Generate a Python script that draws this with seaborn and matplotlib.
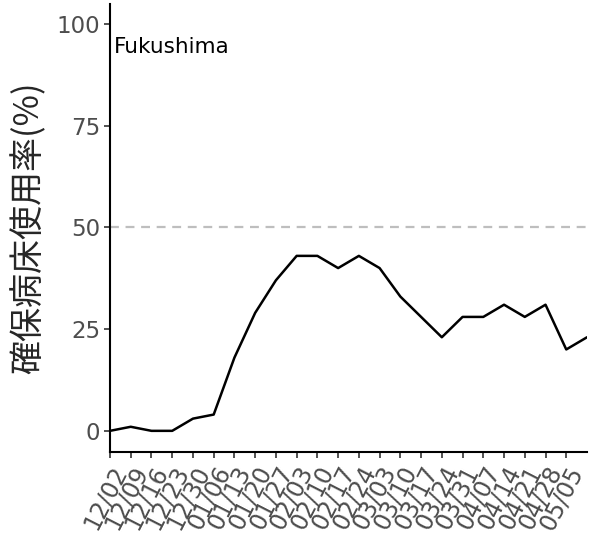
import matplotlib
matplotlib.use("Agg")
import matplotlib.pyplot as plt
import seaborn as sns
import pandas as pd

dates = ["12/02", "12/09", "12/16", "12/23", "12/30", "01/06", "01/13", "01/20",
         "01/27", "02/03", "02/10", "02/17", "02/24", "03/03", "03/10", "03/17",
         "03/24", "03/31", "04/07", "04/14", "04/21", "04/28", "05/05", "05/12"]
usage = [0, 1, 0, 0, 3, 4, 18, 29, 37, 43, 43, 40, 43, 40, 33, 28, 23, 28, 28, 31, 28, 31, 20, 23]
tick_labels = dates[:23]
y_ticks = [0, 25, 50, 75, 100]

df = pd.DataFrame({"idx": range(len(dates)), "usage": usage})

sns.set_theme(style="white")
plt.rcParams['font.family'] = ['DejaVu Sans', 'Noto Sans CJK JP']

fig = plt.figure(figsize=(5.96, 5.48), dpi=100)
ax = fig.add_axes([110/596, 1 - 452/548, 477/596, 448/548])

ax.axhline(50, color="#BEBEBE", lw=1.6, ls=(0, (4, 3)), zorder=1)
sns.lineplot(data=df, x="idx", y="usage", color="black", lw=1.8, ax=ax, zorder=3)

ax.set_xlim(0, len(dates) - 1)
ax.set_ylim(-5.2, 104.9)
ax.set_xticks(range(len(tick_labels)))
ax.set_xticklabels(tick_labels, rotation=63, ha="right", va="top",
                   rotation_mode="anchor", fontsize=17, color="#4D4D4D")
ax.set_yticks(y_ticks)
ax.set_yticklabels([str(v) for v in y_ticks], fontsize=16.5, color="#4D4D4D")
ax.tick_params(axis="both", length=4, width=1.2, color="#333333", pad=3, bottom=True, left=True)
ax.set_xlabel("")
ax.set_ylabel("確保病床使用率(%)", fontsize=24.5, family=['Noto Sans CJK JP', 'DejaVu Sans'], labelpad=7)

for s in ["top", "right"]:
    ax.spines[s].set_visible(False)
for s in ["left", "bottom"]:
    ax.spines[s].set_color("black")
    ax.spines[s].set_linewidth(1.5)

ax.text(0.009, 0.927, "Fukushima", transform=ax.transAxes, ha="left", va="top",
        fontsize=15.5, color="black")

fig.savefig("out.png", dpi=100)
